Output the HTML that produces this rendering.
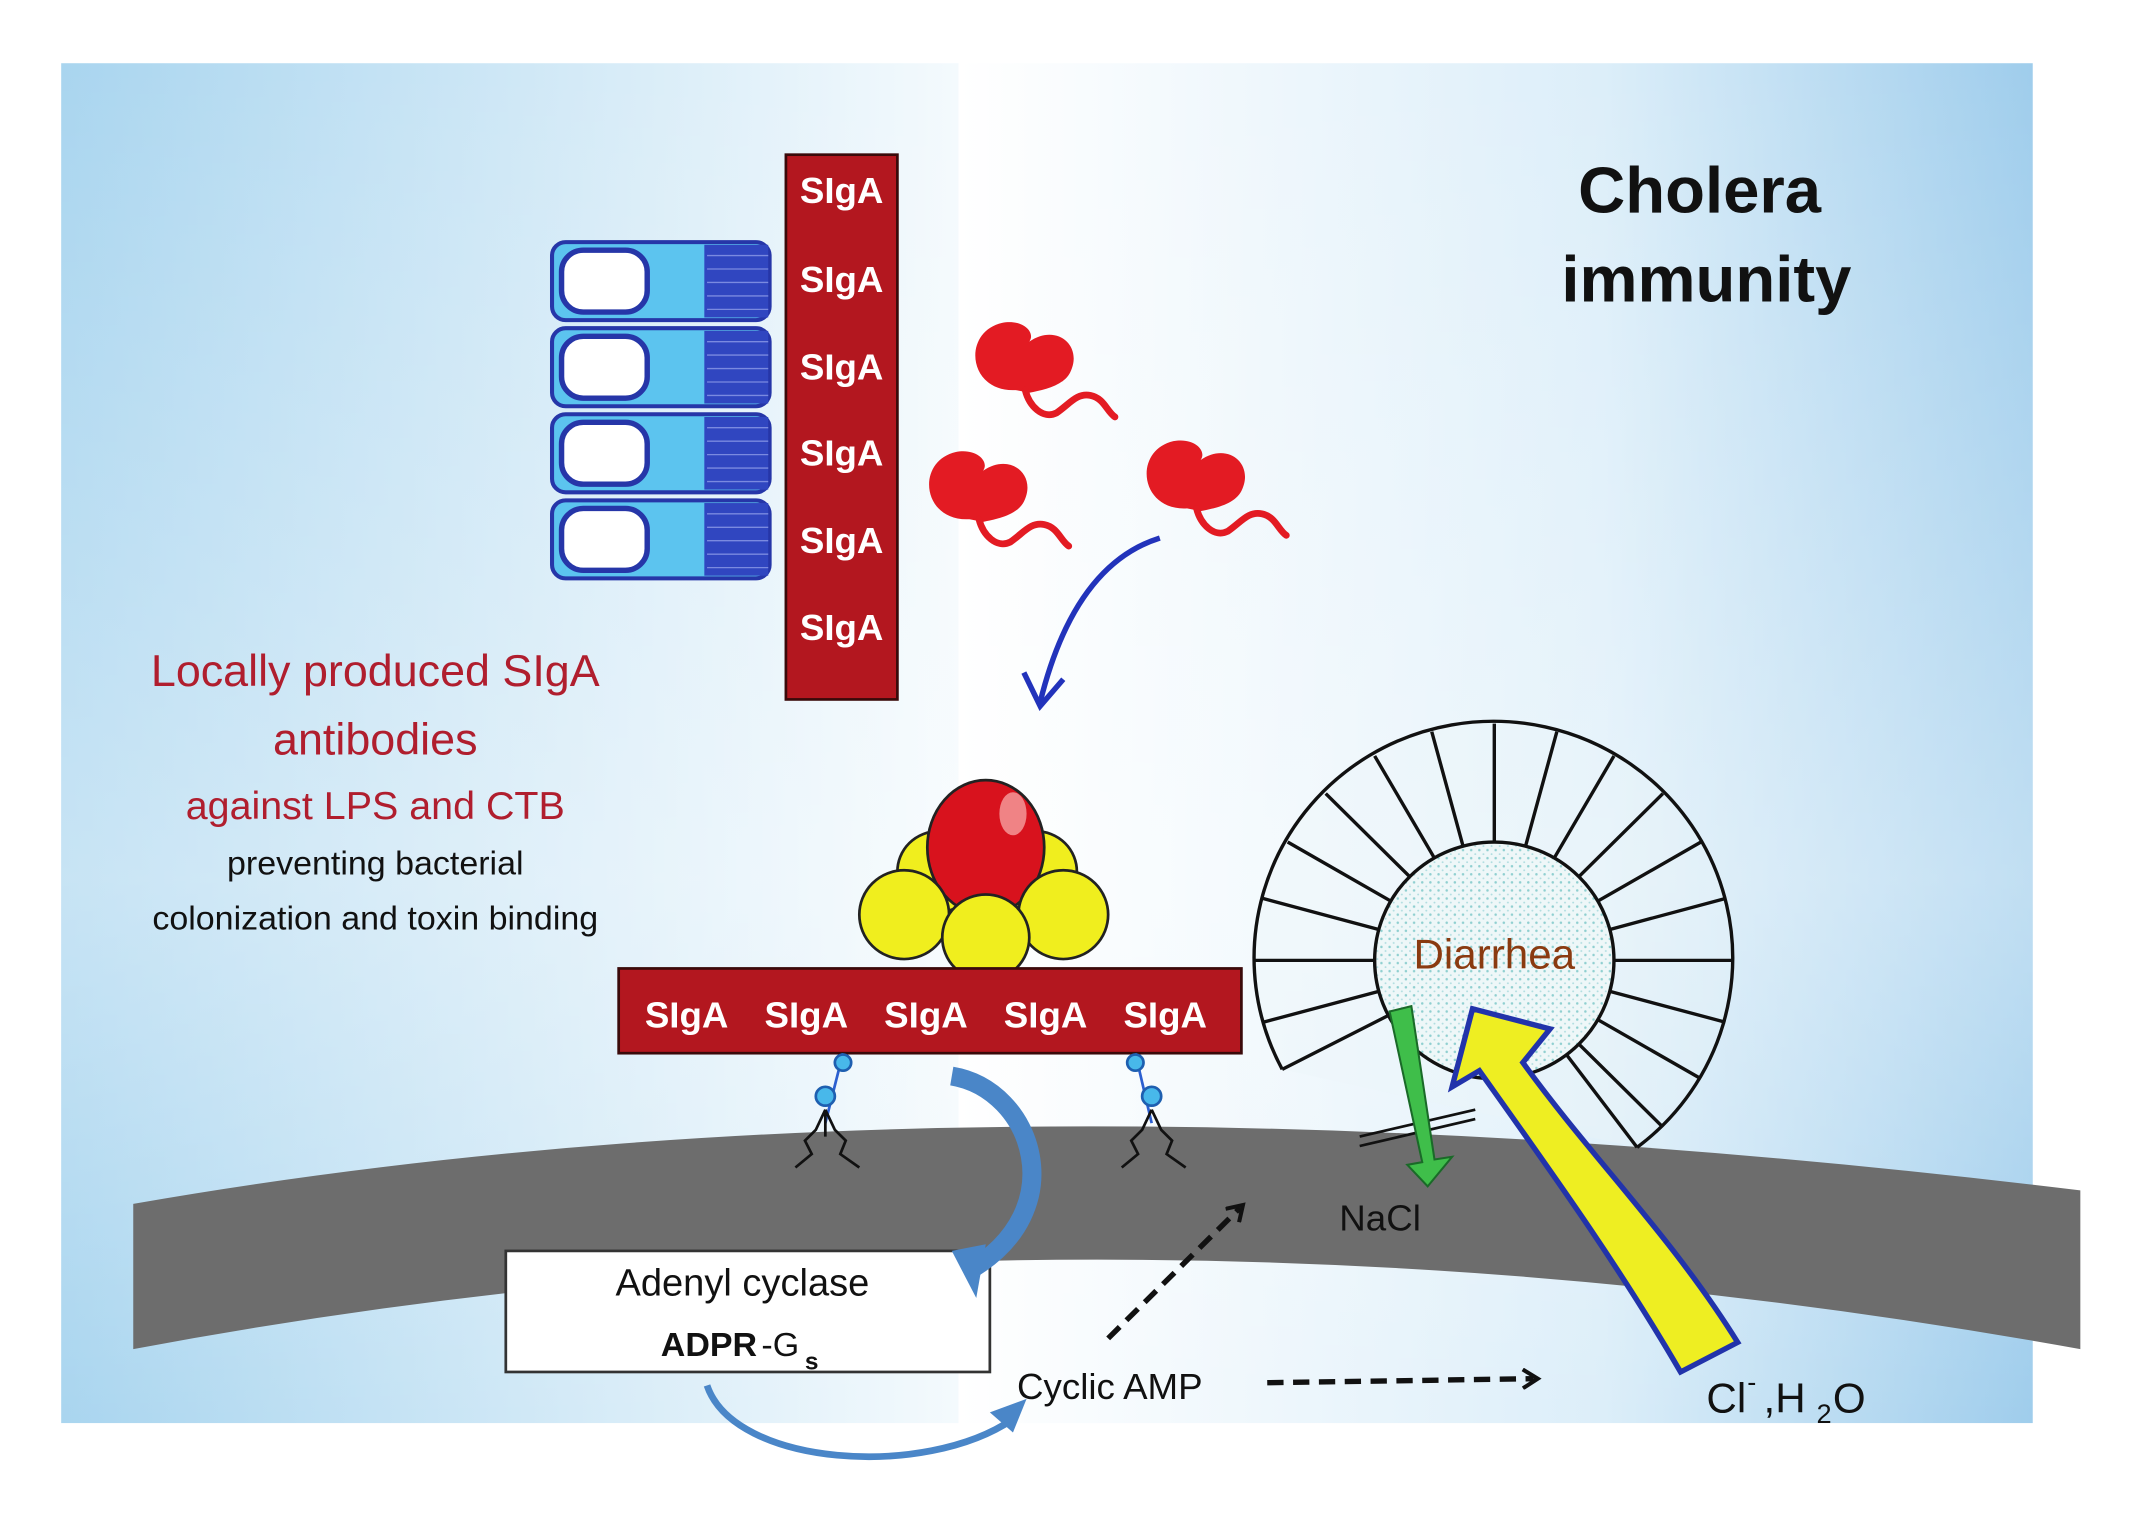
<!DOCTYPE html>
<html><head><style>
html,body{margin:0;padding:0;background:#fff}
svg{display:block}
text{font-family:"Liberation Sans",sans-serif}
</style></head><body>
<svg width="2132" height="1528" viewBox="0 0 1568 1136" preserveAspectRatio="none" xmlns="http://www.w3.org/2000/svg">
<defs>
<linearGradient id="bgL" x1="0" x2="1" y1="0" y2="0">
<stop offset="0" stop-color="#a9d5ef"/><stop offset="1" stop-color="#f4fafd"/></linearGradient>
<linearGradient id="bgR" x1="0" x2="1" y1="0" y2="0">
<stop offset="0" stop-color="#ffffff"/><stop offset="0.6" stop-color="#dceef9"/><stop offset="1" stop-color="#9fcdec"/></linearGradient>
<linearGradient id="bgV" x1="0" x2="0" y1="0" y2="1">
<stop offset="0" stop-color="#ffffff" stop-opacity="0"/><stop offset="0.6" stop-color="#ffffff" stop-opacity="0.35"/><stop offset="1" stop-color="#ffffff" stop-opacity="0"/></linearGradient>
<pattern id="dots" width="6" height="6" patternUnits="userSpaceOnUse"><rect width="6" height="6" fill="#eef7f8"/><circle cx="2" cy="2" r="0.9" fill="#8fcfd0"/><circle cx="5" cy="5" r="0.7" fill="#b0dde0"/></pattern>
<marker id="ah" markerWidth="16" markerHeight="16" refX="9" refY="8" orient="auto" markerUnits="userSpaceOnUse"><path d="M1,1 L12,8 L1,15" fill="none" stroke="#111" stroke-width="3"/></marker>
<g id="bac">
<path d="M-5,28 C-40,30 -45,-15 -15,-22 C0,-25 10,-15 5,-8 C25,-22 45,-5 35,15 C30,25 15,28 5,30 Z" fill="#e31b23"/>
<path d="M2,28 C5,40 15,50 25,45 C35,38 40,30 50,32 C60,34 62,44 68,48" fill="none" stroke="#e31b23" stroke-width="5" stroke-linecap="round"/></g>
</defs>
<rect x="45" y="47" width="660" height="1011" fill="url(#bgL)"/>
<rect x="705" y="47" width="790" height="1011" fill="url(#bgR)"/>
<rect x="45" y="47" width="1450" height="1011" fill="url(#bgV)"/>

<!-- membrane -->
<path d="M98,895 Q720,785 1530,885 L1530,1003 Q800,870 98,1003 Z" fill="#6d6d6d"/>

<!-- title -->
<text x="1250" y="158" font-size="48" font-weight="bold" text-anchor="middle" fill="#111">Cholera</text>
<text x="1255" y="224" font-size="48" font-weight="bold" text-anchor="middle" fill="#111">immunity</text>

<!-- cells -->
<g stroke="#2636a8" stroke-width="3">
<g id="cell"><rect x="406" y="180" width="160" height="58" rx="10" fill="#5cc4ef"/>
<rect x="413" y="186" width="63" height="46" rx="16" fill="#fff" stroke-width="4"/>
<rect x="518" y="182" width="47" height="54" fill="#3046c0" stroke="none"/>
<g stroke="#7a8ae0" stroke-width="1"><line x1="520" y1="190" x2="565" y2="190"/><line x1="520" y1="200" x2="565" y2="200"/><line x1="520" y1="210" x2="565" y2="210"/><line x1="520" y1="220" x2="565" y2="220"/><line x1="520" y1="230" x2="565" y2="230"/></g></g>
<use href="#cell" y="64"/><use href="#cell" y="128"/><use href="#cell" y="192"/>
</g>

<!-- vertical SIgA bar -->
<rect x="578" y="115" width="82" height="405" fill="#b3171f" stroke="#3a0a0a" stroke-width="2"/>
<g font-size="27" font-weight="bold" fill="#fff" text-anchor="middle">
<text x="619" y="151">SIgA</text><text x="619" y="217">SIgA</text><text x="619" y="282">SIgA</text>
<text x="619" y="346">SIgA</text><text x="619" y="411">SIgA</text><text x="619" y="476">SIgA</text></g>

<!-- bacteria -->
<use href="#bac" x="752" y="262"/><use href="#bac" x="718" y="358"/><use href="#bac" x="878" y="350"/>
<path d="M853,400 Q790,420 765,522" fill="none" stroke="#2233bb" stroke-width="4"/>
<path d="M753,500 L765,525 L782,505" fill="none" stroke="#2233bb" stroke-width="4"/>

<!-- left text -->
<g text-anchor="middle">
<text x="276" y="510" font-size="33" fill="#b01e2e">Locally produced SIgA</text>
<text x="276" y="561" font-size="33" fill="#b01e2e">antibodies</text>
<text x="276" y="609" font-size="29" fill="#b01e2e">against LPS and CTB</text>
<text x="276" y="650" font-size="25" fill="#111">preventing bacterial</text>
<text x="276" y="691" font-size="25" fill="#111">colonization and toxin binding</text></g>

<!-- toxin -->
<g stroke="#222" stroke-width="2">
<circle cx="690" cy="648" r="30" fill="#f0ee1e"/><circle cx="762" cy="648" r="30" fill="#f0ee1e"/>
<ellipse cx="725" cy="630" rx="43" ry="50" fill="#d8121d"/>
<circle cx="665" cy="680" r="33" fill="#f0ee1e"/><circle cx="782" cy="680" r="33" fill="#f0ee1e"/>
<circle cx="725" cy="697" r="32" fill="#f0ee1e"/></g>
<ellipse cx="745" cy="605" rx="10" ry="16" fill="#f6a0a0" opacity="0.8"/>

<!-- horizontal bar -->
<rect x="455" y="720" width="458" height="63" fill="#b3171f" stroke="#3a0a0a" stroke-width="2"/>
<g font-size="27" font-weight="bold" fill="#fff" text-anchor="middle">
<text x="505" y="764">SIgA</text><text x="593" y="764">SIgA</text><text x="681" y="764">SIgA</text><text x="769" y="764">SIgA</text><text x="857" y="764">SIgA</text></g>

<!-- receptors -->
<g fill="#48b8ea" stroke="#1e5fb0" stroke-width="2">
<line x1="620" y1="783" x2="607" y2="835" stroke="#2c5fd0"/><circle cx="620" cy="790" r="6"/><circle cx="607" cy="815" r="7"/>
<line x1="835" y1="783" x2="847" y2="835" stroke="#2c5fd0"/><circle cx="835" cy="790" r="6"/><circle cx="847" cy="815" r="7"/></g>
<g fill="none" stroke="#111" stroke-width="2">
<path d="M607,825 L600,840 L592,848 L597,858 L585,868 M607,825 L614,840 L622,848 L618,858 L632,868 M607,825 L607,845"/>
<path d="M847,825 L840,840 L832,848 L837,858 L825,868 M847,825 L854,840 L862,848 L858,858 L872,868"/></g>

<!-- adenyl box -->
<rect x="372" y="930" width="356" height="90" fill="#fff" stroke="#333" stroke-width="2"/>
<text x="546" y="963" font-size="28" text-anchor="middle" fill="#111">Adenyl cyclase</text>
<text x="486" y="1008" font-size="25" font-weight="bold" fill="#111">ADPR</text><text x="560" y="1008" font-size="25" fill="#111">-G</text><text x="592" y="1018" font-size="18" font-weight="bold" fill="#111">s</text>

<!-- blue curved arrows -->
<path d="M700,800 C760,810 790,900 712,945" fill="none" stroke="#4a86c8" stroke-width="14"/>
<path d="M700,930 L718,965 L725,925 Z" fill="#4a86c8"/>
<path d="M520,1030 C540,1090 680,1100 745,1055" fill="none" stroke="#4a86c8" stroke-width="5"/>
<path d="M728,1050 L755,1040 L745,1065 Z" fill="#4a86c8"/>

<!-- cyclic AMP -->
<text x="748" y="1040" font-size="27" fill="#111">Cyclic AMP</text>
<line x1="815" y1="995" x2="912" y2="898" stroke="#111" stroke-width="4" stroke-dasharray="12,7" marker-end="url(#ah)"/>
<line x1="932" y1="1028" x2="1128" y2="1025" stroke="#111" stroke-width="4" stroke-dasharray="12,7" marker-end="url(#ah)"/>
<text x="1015" y="915" font-size="27" text-anchor="middle" fill="#111">NaCl</text>

<!-- diarrhea wheel -->
<g stroke="#111" stroke-width="2.5" fill="none">
<path d="M943,795 A176,176 0 1 1 1204,853" fill="#eaf4fa" fill-opacity="0.3"/>
<line x1="943" y1="795" x2="1021" y2="755"/><line x1="1204" y1="853" x2="1152" y2="784"/>
</g>
<g stroke="#111" stroke-width="2.5">
<line x1="1099" y1="626" x2="1099" y2="538"/>
<line x1="1122" y1="629" x2="1145" y2="544"/><line x1="1143" y1="638" x2="1187" y2="562"/>
<line x1="1161" y1="652" x2="1223" y2="590"/><line x1="1175" y1="670" x2="1251" y2="626"/>
<line x1="1184" y1="691" x2="1269" y2="668"/><line x1="1187" y1="714" x2="1275" y2="714"/>
<line x1="1184" y1="737" x2="1269" y2="760"/><line x1="1175" y1="758" x2="1251" y2="802"/>
<line x1="1161" y1="776" x2="1223" y2="838"/>
<line x1="1076" y1="629" x2="1053" y2="544"/><line x1="1055" y1="638" x2="1011" y2="562"/>
<line x1="1037" y1="652" x2="975" y2="590"/><line x1="1023" y1="670" x2="947" y2="626"/>
<line x1="1014" y1="691" x2="929" y2="668"/><line x1="1011" y1="714" x2="923" y2="714"/>
<line x1="1014" y1="737" x2="929" y2="760"/></g>
<circle cx="1099" cy="714" r="88" fill="url(#dots)" stroke="#111" stroke-width="2.5"/>
<text x="1099" y="720" font-size="31" text-anchor="middle" fill="#8a3a10">Diarrhea</text>

<!-- membrane channel lines -->
<line x1="1000" y1="845" x2="1085" y2="825" stroke="#111" stroke-width="2"/>
<line x1="1000" y1="852" x2="1085" y2="832" stroke="#111" stroke-width="2"/>

<!-- green arrow -->
<path d="M1022,752 L1038,748 L1055,862 L1068,860 L1050,882 L1035,866 L1046,864 Z" fill="#3fbe4a" stroke="#1a6a28" stroke-width="1.5"/>
<!-- yellow arrow -->
<path d="M1278,998 C1230,920 1170,860 1120,790 L1140,765 L1083,750 L1068,808 L1088,796 C1140,870 1190,940 1236,1020 Z" fill="#eeee22" stroke="#2233aa" stroke-width="4"/>
<text x="1255" y="1050" font-size="31" fill="#111">Cl</text><text x="1285" y="1034" font-size="20" fill="#111">-</text><text x="1297" y="1050" font-size="31" fill="#111">,H</text><text x="1336" y="1058" font-size="20" fill="#111">2</text><text x="1348" y="1050" font-size="31" fill="#111">O</text>
</svg>
</body></html>
